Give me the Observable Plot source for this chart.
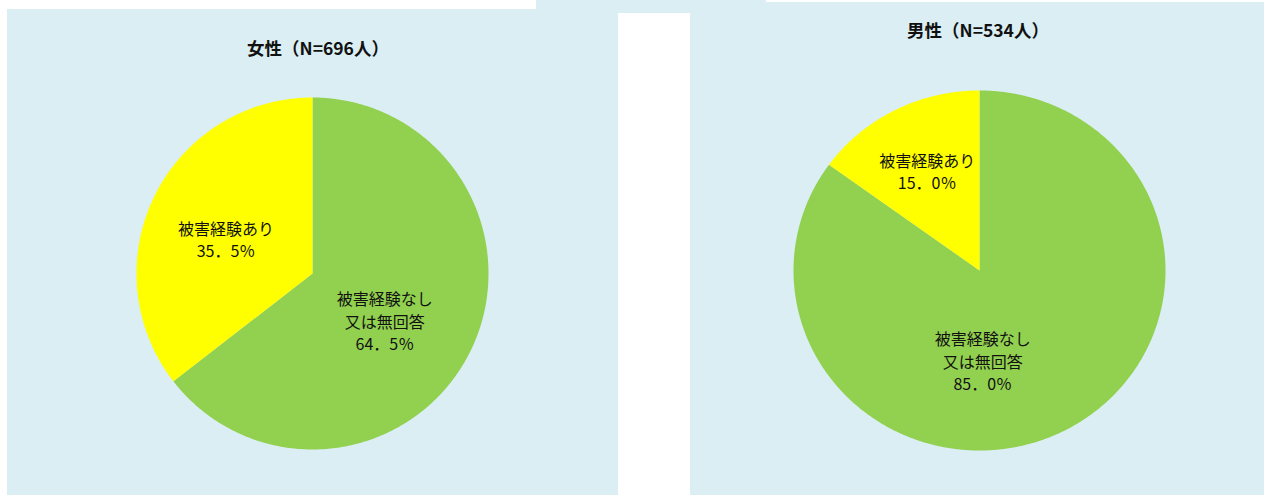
<!DOCTYPE html>
<html>
<head>
<meta charset="utf-8">
<script src="https://cdn.jsdelivr.net/npm/d3@7"></script>
<script src="https://cdn.jsdelivr.net/npm/@observablehq/plot@0.6"></script>
<style>
  html, body { margin: 0; padding: 0; background: #ffffff; width: 1264px; height: 495px; overflow: hidden; }
  body { position: relative; font-family: "Noto Sans CJK JP", "Noto Sans", sans-serif; }
  .bg { position: absolute; background: #DAEEF3; }
  .title { position: absolute; font-weight: bold; font-size: 17.5px; color: #111; transform: translate(-50%, -50%); white-space: nowrap; }
  .pie { position: absolute; }
</style>
</head>
<body>
<div class="bg" style="left:7px;top:9px;width:611px;height:486px"></div>
<div class="bg" style="left:536px;top:0px;width:230px;height:13px"></div>
<div class="bg" style="left:690px;top:2px;width:574px;height:493px"></div>
<div class="title" style="left:318px;top:47px">女性（N=696人）</div>
<div class="title" style="left:978px;top:29px">男性（N=534人）</div>
<div id="pieF" class="pie" style="left:136px;top:97px"></div>
<div id="pieM" class="pie" style="left:793px;top:90px"></div>
<script>
// Data
const categories = ["被害経験なし\n又は無回答", "被害経験あり"];
const femaleValues = [64.5, 35.5];
const maleValues = [85.0, 15.0];
const percentLabels = { female: ["64．5％", "35．5％"], male: ["85．0％", "15．0％"] };
const sliceColors = ["#92D050", "#FFFF00"];

// Label placement (layout): [radius fraction, angle in degrees clockwise from top]
const labelLayout = {
  female: [[0.49, 123], [0.53, -68]],
  male:   [[0.50, 178], [0.62, -27]]
};

function slicePolygons(values) {
  const total = d3.sum(values);
  const pts = [];
  let start = 0;
  values.forEach((v, i) => {
    const a0 = start, a1 = start + v / total * 2 * Math.PI;
    pts.push({ slice: i, x: 0, y: 0 });
    const n = Math.max(2, Math.ceil((a1 - a0) / (Math.PI / 360)));
    for (let k = 0; k <= n; k++) {
      const a = a0 + (a1 - a0) * k / n;
      pts.push({ slice: i, x: Math.sin(a), y: Math.cos(a) });
    }
    start = a1;
  });
  return pts;
}

function labels(values, pcts, layout) {
  return values.map((v, i) => {
    const [rf, deg] = layout[i];
    const a = deg * Math.PI / 180;
    return { x: rf * Math.sin(a), y: rf * Math.cos(a), text: categories[i] + "\n" + pcts[i] };
  });
}

function pie(values, pcts, layout, w, h) {
  return Plot.plot({
    width: w, height: h,
    margin: 0, inset: 0,
    x: { domain: [-1, 1], axis: null },
    y: { domain: [-1, 1], axis: null },
    style: { background: "transparent", overflow: "visible" },
    marks: [
      Plot.line(slicePolygons(values), {
        x: "x", y: "y", z: "slice",
        fill: d => sliceColors[d.slice], stroke: "none", curve: "linear"
      }),
      Plot.text(labels(values, pcts, layout), {
        x: "x", y: "y", text: "text",
        fontSize: 16, lineHeight: 1.38, fill: "#111",
        fontFamily: "'Noto Sans CJK JP', sans-serif"
      })
    ]
  });
}

document.getElementById("pieF").appendChild(pie(femaleValues, percentLabels.female, labelLayout.female, 352, 352));
document.getElementById("pieM").appendChild(pie(maleValues, percentLabels.male, labelLayout.male, 372, 360));
</script>
</body>
</html>
